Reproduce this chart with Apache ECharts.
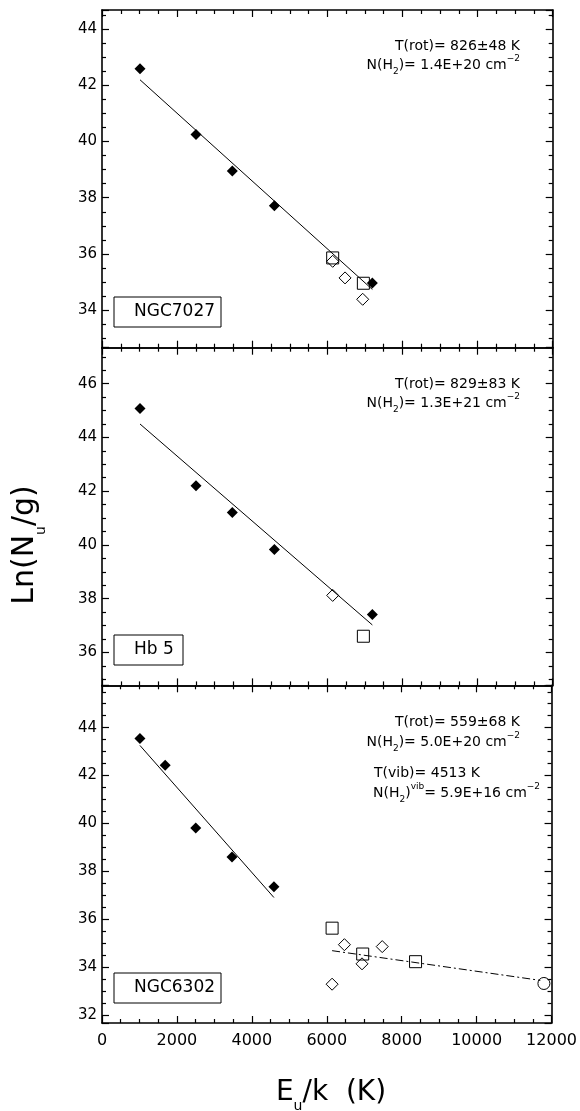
<!DOCTYPE html>
<html>
<head>
<meta charset="utf-8">
<script src="https://cdn.jsdelivr.net/npm/echarts@6/dist/echarts.min.js"></script>
<style>
  html, body { margin: 0; padding: 0; background: #fff; }
  #chart { width: 580px; height: 1111px; }
</style>
</head>
<body>
<div id="chart"></div>
<script>
// Upper-level energy axis (E_u/k, K), shared by the three panels
const energyRange = [0, 12000];
const energyStep = 2000;

// NGC7027: ln(N_u/g) against E_u/k
const ngc7027Filled = [[1012, 42.58], [2503, 40.25], [3470, 38.95], [4589, 37.71], [7198, 34.97]];
const ngc7027Squares = [[6142, 35.86], [6959, 34.96]];
const ngc7027Diamonds = [[6142, 35.74], [6471, 35.15], [6941, 34.39]];
const ngc7027RotFit = [[1012, 42.19], [7198, 34.74]];
const ngc7027LnRange = [32.67, 44.67];
const ngc7027Notes = ['T(rot)= 826±48 K', 'N(H{s|2})= 1.4E+20 cm{p|−2}'];

// Hb 5
const hb5Filled = [[1012, 45.08], [2503, 42.20], [3470, 41.21], [4589, 39.83], [7198, 37.41]];
const hb5Diamonds = [[6142, 38.12]];
const hb5Squares = [[6959, 36.60]];
const hb5RotFit = [[1012, 44.50], [7198, 37.02]];
const hb5LnRange = [34.77, 47.34];
const hb5Notes = ['T(rot)= 829±83 K', 'N(H{s|2})= 1.3E+21 cm{p|−2}'];

// NGC6302
const ngc6302Filled = [[1012, 43.55], [1686, 42.43], [2503, 39.81], [3470, 38.60], [4589, 37.36]];
const ngc6302Squares = [[6142, 35.63], [6959, 34.55], [8370, 34.23]];
const ngc6302Diamonds = [[6142, 33.29], [6471, 34.94], [6941, 34.14], [7480, 34.86]];
const ngc6302Circles = [[11796, 33.32]];
const ngc6302RotFit = [[1012, 43.26], [4589, 36.91]];
const ngc6302VibFit = [[6142, 34.69], [11700, 33.45]];
const ngc6302LnRange = [31.67, 45.77];
const ngc6302Notes = ['T(rot)= 559±68 K', 'N(H{s|2})= 5.0E+20 cm{p|−2}'];
const ngc6302VibNotes = ['T(vib)= 4513 K', 'N(H{s|2}){v|vib}= 5.9E+16 cm{p|−2}'];

const objectNames = ['NGC7027', 'Hb 5', 'NGC6302'];

const FONT = '"DejaVu Sans", "Liberation Sans", sans-serif';
const INK = '#000';

// plot frames
const gridLeft = 102, gridWidth = 450.7, panelHeight = 337.7;
const gridTops = [10, 347.7, 685.3];

const chart = echarts.init(document.getElementById('chart'), null, { renderer: 'canvas' });

function xAxisFor(gridIndex, position, showLabels) {
  return {
    type: 'value', gridIndex, position,
    min: energyRange[0], max: energyRange[1], interval: energyStep,
    axisLine: { onZero: false, lineStyle: { color: INK, width: 1.6 } },
    axisTick: { inside: true, length: 7, lineStyle: { color: INK, width: 1.2 } },
    minorTick: { show: true, splitNumber: 4, length: 4, lineStyle: { color: INK, width: 1.2 } },
    splitLine: { show: false }, minorSplitLine: { show: false },
    axisLabel: { show: showLabels, color: INK, fontFamily: FONT, fontSize: 16, margin: 10,
      formatter: v => String(v) }
  };
}

function yAxisFor(gridIndex, position, range, showLabels) {
  return {
    type: 'value', gridIndex, position,
    min: range[0], max: range[1], splitNumber: 6,
    axisLine: { onZero: false, lineStyle: { color: INK, width: 1.6 } },
    axisTick: { inside: true, length: 7, lineStyle: { color: INK, width: 1.2 } },
    minorTick: { show: true, splitNumber: 4, length: 4, lineStyle: { color: INK, width: 1.2 } },
    splitLine: { show: false }, minorSplitLine: { show: false },
    axisLabel: {
      show: showLabels, color: INK, fontFamily: FONT, fontSize: 15, margin: 5,
      formatter: v => (Math.abs(v - Math.round(v)) < 1e-6 && Math.round(v) % 2 === 0) ? String(Math.round(v)) : ''
    }
  };
}

const hollow = { color: 'rgba(0,0,0,0)', borderColor: INK, borderWidth: 1, opacity: 1 };

function fitLine(panel, data, dashed) {
  return {
    type: 'line', xAxisIndex: 2 * panel, yAxisIndex: 2 * panel, data,
    symbol: 'none', silent: true, z: 1,
    lineStyle: { color: INK, width: 1, opacity: 1, type: dashed ? [8, 3, 2, 3] : 'solid' }
  };
}
function marks(panel, data, symbol, size, filled) {
  return {
    type: 'scatter', xAxisIndex: 2 * panel, yAxisIndex: 2 * panel, data,
    symbol, symbolSize: size, z: 3,
    itemStyle: filled ? { color: INK, opacity: 1 } : hollow
  };
}

// rich text styles: subscript, superscript and small superscript label
function richFor(size, lineH) {
  const small = Math.round(size * 0.65);
  return {
    s: { fontFamily: FONT, fontSize: small, lineHeight: small, verticalAlign: 'bottom', fill: INK },
    p: { fontFamily: FONT, fontSize: small, lineHeight: lineH - 5, verticalAlign: 'top', fill: INK },
    v: { fontFamily: FONT, fontSize: small, lineHeight: small + 2, verticalAlign: 'top', fill: INK }
  };
}
function note(text, x, y, align) {
  return {
    type: 'text', x, y, z: 10,
    style: {
      text, fontFamily: FONT, fontSize: 14, lineHeight: 22, fill: INK,
      align, verticalAlign: 'middle', rich: richFor(14, 22)
    }
  };
}
function nameBox(name, y, width) {
  return [
    { type: 'rect', z: 5, shape: { x: 114, y, width, height: 30 },
      style: { fill: '#fff', stroke: INK, lineWidth: 1 } },
    { type: 'text', z: 6, x: 134, y: y + 15,
      style: { text: name, fontFamily: FONT, fontSize: 17, fill: INK, align: 'left', verticalAlign: 'middle' } }
  ];
}

const grids = gridTops.map(top => ({ left: gridLeft, top, width: gridWidth, height: panelHeight, containLabel: false }));
const ranges = [ngc7027LnRange, hb5LnRange, ngc6302LnRange];

const xAxes = [], yAxes = [];
ranges.forEach((r, i) => {
  xAxes.push(xAxisFor(i, 'bottom', i === 2), xAxisFor(i, 'top', false));
  yAxes.push(yAxisFor(i, 'left', r, true), yAxisFor(i, 'right', r, false));
});

const series = [
  fitLine(0, ngc7027RotFit),
  marks(0, ngc7027Filled, 'diamond', 11, true),
  marks(0, ngc7027Squares, 'rect', 12, false),
  marks(0, ngc7027Diamonds, 'diamond', 12, false),

  fitLine(1, hb5RotFit),
  marks(1, hb5Filled, 'diamond', 11, true),
  marks(1, hb5Diamonds, 'diamond', 12, false),
  marks(1, hb5Squares, 'rect', 12, false),

  fitLine(2, ngc6302RotFit),
  fitLine(2, ngc6302VibFit, true),
  marks(2, ngc6302Filled, 'diamond', 11, true),
  marks(2, ngc6302Squares, 'rect', 12, false),
  marks(2, ngc6302Diamonds, 'diamond', 12, false),
  marks(2, ngc6302Circles, 'circle', 12, false)
];

const titleSub = { fontFamily: FONT, fontSize: 14, lineHeight: 14, verticalAlign: 'bottom', fill: INK };

const graphics = [
  note(ngc7027Notes[0], 520, 46, 'right'),
  note(ngc7027Notes[1], 520, 65, 'right'),
  note(hb5Notes[0], 520, 384, 'right'),
  note(hb5Notes[1], 520, 403, 'right'),
  note(ngc6302Notes[0], 520, 722, 'right'),
  note(ngc6302Notes[1], 520, 742, 'right'),
  note(ngc6302VibNotes[0], 374, 773, 'left'),
  note(ngc6302VibNotes[1], 373, 793, 'left'),
  ...nameBox(objectNames[0], 297, 107),
  ...nameBox(objectNames[1], 635, 69),
  ...nameBox(objectNames[2], 973, 107),
  // axis titles
  { type: 'text', x: 25, y: 545, rotation: Math.PI / 2, z: 10,
    style: { text: 'Ln(N{s|u}/g)', fontFamily: FONT, fontSize: 30, lineHeight: 46, fill: INK,
      align: 'center', verticalAlign: 'middle', rich: { s: titleSub } } },
  { type: 'text', x: 331, y: 1093, z: 10,
    style: { text: 'E{s|u}/k  (K)', fontFamily: FONT, fontSize: 28, lineHeight: 40, fill: INK,
      align: 'center', verticalAlign: 'middle', rich: { s: titleSub } } }
];

chart.setOption({
  animation: false,
  backgroundColor: '#fff',
  grid: grids,
  xAxis: xAxes,
  yAxis: yAxes,
  series,
  graphic: graphics
});
</script>
</body>
</html>
